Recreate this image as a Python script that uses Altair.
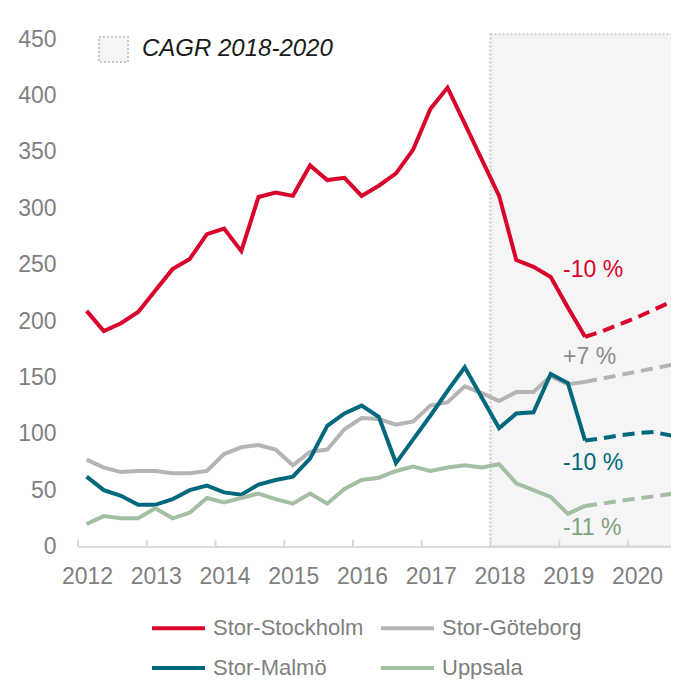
import altair as alt
import pandas as pd

FONT = "Liberation Sans"

series = ["Stor-Stockholm", "Stor-Göteborg", "Stor-Malmö", "Uppsala"]
colors = ["#d9042b", "#b4b4b4", "#00687d", "#a2bfa2"]
pct_colors = ["#d9042b", "#8c8c8c", "#00687d", "#7ea27e"]

years = [2012, 2013, 2014, 2015, 2016, 2017, 2018, 2019, 2020]

# quarterly history, 2012 Q1 .. 2019 Q2
hist_quarters = [f"{y} Q{q}" for y in range(2012, 2020) for q in range(1, 5)][:30]
stockholm = [209, 191, 198, 208, 227, 246, 255, 277, 282, 262, 310, 314, 311, 338, 325,
             327, 311, 320, 331, 352, 388, 407, 375, 343, 311, 254, 248, 239, 212, 186]
goteborg = [77, 70, 66, 67, 67, 65, 65, 67, 82, 88, 90, 86, 72, 84, 86,
            104, 114, 113, 108, 111, 125, 128, 142, 136, 129, 137, 137, 151, 144, 146]
malmo = [62, 50, 45, 37, 37, 42, 50, 54, 48, 46, 55, 59, 62, 78, 107,
         118, 125, 115, 74, 95, 116, 138, 159, 132, 105, 118, 119, 153, 145, 94]
uppsala = [20, 27, 25, 25, 34, 25, 30, 43, 39, 43, 47, 42, 38, 47, 38,
           51, 59, 61, 67, 71, 67, 70, 72, 70, 73, 56, 50, 44, 29, 36]

# forecast (dashed), 2019 Q2 .. 2020 Q4
fc_quarters = ["2019 Q2", "2019 Q3", "2019 Q4", "2020 Q1", "2020 Q2", "2020 Q3", "2020 Q4"]
stockholm_fc = [186, 191, 197, 203, 210, 217, 224]
goteborg_fc = [146, 149, 152, 155, 158, 161, 165]
malmo_fc = [94, 96, 98.5, 100.5, 101.5, 98.5, 94]
uppsala_fc = [36, 38, 40.5, 42.5, 44.5, 46.5, 48.5]

pct_labels = ["-10 %", "+7 %", "-10 %", "-11 %"]
pct_values = [245, 168, 74, 16.5]
pct_at = "2019 Q1"

cagr_label = "CAGR 2018-2020"
shade_from, shade_to = 2018, 2021


def qpos(label):
    y, q = label.split(" Q")
    return int(y) + (int(q) - 0.5) / 4


def frame(quarters, lists):
    rows = []
    for name, vals in zip(series, lists):
        for qt, v in zip(quarters, vals):
            rows.append({"series": name, "x": qpos(qt), "value": v})
    return pd.DataFrame(rows)


hist = frame(hist_quarters, [stockholm, goteborg, malmo, uppsala])
fc = frame(fc_quarters, [stockholm_fc, goteborg_fc, malmo_fc, uppsala_fc])
pct = pd.DataFrame({"x": [qpos(pct_at) - 0.07] * 4, "value": pct_values,
                    "text": pct_labels, "c": pct_colors})

x_scale = alt.Scale(domain=[2012, 2020.625], nice=False, zero=False)
y_scale = alt.Scale(domain=[0, 455], nice=False, zero=True)
color_scale = alt.Scale(domain=series, range=colors)

x_axis = alt.Axis(values=years, format="d", labelOffset=9, labelFontSize=23, labelFont=FONT,
                  labelColor="#7f7f7f", ticks=False, domainColor="#d9d9d9", domainWidth=2,
                  grid=False, title=None, labelPadding=19, labelFlush=False)
y_axis = alt.Axis(values=list(range(0, 451, 50)), labelFontSize=23, labelFont=FONT,
                  labelColor="#7f7f7f", ticks=False, domain=False, grid=False,
                  title=None, labelPadding=22, labelFlush=False)

X = lambda f: alt.X(f, scale=x_scale, axis=x_axis, title=None)
Y = lambda f: alt.Y(f, scale=y_scale, axis=y_axis, title=None)

shade = alt.Chart(pd.DataFrame({"x0": [shade_from], "x1": [shade_to], "y0": [0], "y1": [454.5]})).mark_rect(
    fill="#f5f5f5", stroke="#c4c4c4", strokeWidth=2, strokeDash=[2, 2], clip=True
).encode(x=X("x0:Q"), x2="x1", y=Y("y0:Q"), y2="y1")

ticks = alt.Chart(pd.DataFrame({"year": years})).mark_rule(color="#d9d9d9", strokeWidth=2).encode(
    x=X("year:Q"), y=alt.value(513), y2=alt.value(506)
)

legend = alt.Legend(orient="none", legendX=72, legendY=566, columns=2, direction="horizontal",
                    symbolType="stroke", symbolSize=2809, symbolStrokeWidth=4,
                    labelFontSize=22, labelFont=FONT, labelColor="#7f7f7f", labelOffset=6,
                    columnPadding=9, rowPadding=-26, title=None, padding=0)

solid = alt.Chart(hist).mark_line(strokeWidth=4, clip=True).encode(
    x=X("x:Q"), y=Y("value:Q"),
    color=alt.Color("series:N", scale=color_scale, legend=legend, sort=series),
)

dashed = alt.Chart(fc).mark_line(strokeWidth=4, strokeDash=[12, 7], clip=True).encode(
    x=X("x:Q"), y=Y("value:Q"),
    color=alt.Color("series:N", scale=color_scale, legend=None, sort=series),
)

pct_text = alt.Chart(pct).mark_text(align="left", baseline="middle", fontSize=23, font=FONT).encode(
    x=X("x:Q"), y=Y("value:Q"), text="text:N", color=alt.Color("c:N", scale=None)
)

one = pd.DataFrame({"t": [cagr_label]})
cagr_box = alt.Chart(one).mark_rect(fill="#f5f5f5", stroke="#c8c8c8", strokeWidth=2, strokeDash=[2, 2]).encode(
    x=alt.value(21), x2=alt.value(50), y=alt.value(3.5), y2=alt.value(28.5)
)
cagr_text = alt.Chart(one).mark_text(align="left", baseline="middle", fontSize=24, font=FONT,
                                     fontStyle="italic", color="#1a1a1a").encode(
    x=alt.value(64), y=alt.value(15.5), text="t:N"
)

chart = alt.layer(shade, ticks, solid, dashed, pct_text, cagr_box, cagr_text).properties(
    width=593, height=513,
    autosize=alt.AutoSizeParams(type="none"),
    padding={"left": 70, "top": 25.5, "right": 0, "bottom": 132.5},
).configure_view(stroke=None)

chart.save("out.html", embed_options={"renderer": "svg", "actions": False})
